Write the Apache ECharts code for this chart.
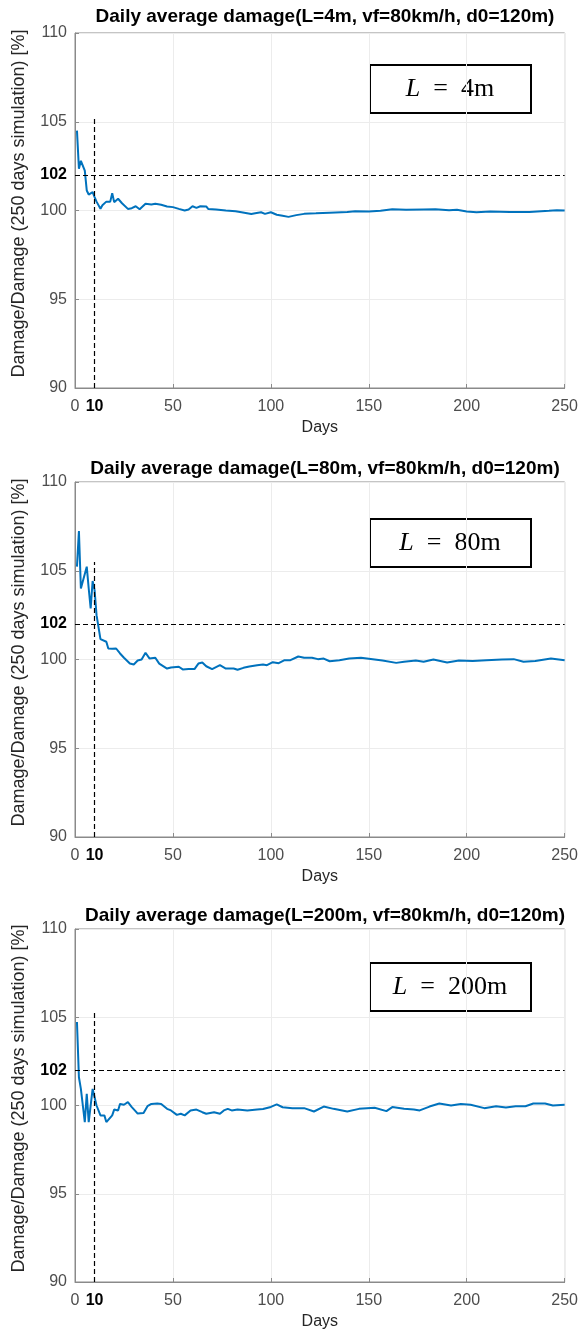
<!DOCTYPE html>
<html>
<head>
<meta charset="utf-8">
<script src="https://cdn.jsdelivr.net/npm/echarts@6/dist/echarts.min.js"></script>
<style>
html,body{margin:0;padding:0;background:#fff;}
#chart{width:581px;height:1331px;}
</style>
</head>
<body>
<div id="chart"></div>
<script>
// ---- data ----
const titles = [
  'Daily average damage(L=4m, vf=80km/h, d0=120m)',
  'Daily average damage(L=80m, vf=80km/h, d0=120m)',
  'Daily average damage(L=200m, vf=80km/h, d0=120m)'
];
const boxLabels = ['4m', '80m', '200m'];
const xTickLabels = [0, 10, 50, 100, 150, 200, 250];
const yTickLabels = [90, 95, 100, 102, 105, 110];
const refDay = 10;
const refLevel = 102;
const refTop = [105.3, 105.5, 105.3];

const daysL4 = [1,2,3,5,6,7,8,9,10,11,13,14,16,18,19,20,21,22,24,27,29,31,33,34,36,39,41,44,47,50,53,56,58,60,62,64,65,67,68,72,77,82,85,90,92,95,97,100,103,106,109,113,117,123,130,139,143,150,156,162,169,178,184,191,195,200,205,212,222,232,242,246,250];
const valuesL4 = [104.5,102.35,102.8,102.25,101.13,100.9,101.0,101.03,100.75,100.5,100.1,100.3,100.5,100.5,100.98,100.47,100.5,100.66,100.41,100.09,100.13,100.24,100.07,100.15,100.38,100.34,100.38,100.32,100.23,100.19,100.09,100.0,100.06,100.24,100.15,100.24,100.15,100.23,100.09,100.06,100.0,99.96,99.9,99.8,99.84,99.9,99.81,99.9,99.76,99.7,99.64,99.74,99.81,99.84,99.88,99.92,99.96,99.94,99.98,100.07,100.04,100.06,100.07,100.02,100.04,99.94,99.9,99.94,99.92,99.92,99.98,100.02,100.0];

const daysL80 = [1,2,3,4,6,7,8,9,10,11,13,14,16,17,19,20,21,23,25,28,30,32,34,36,38,41,43,47,49,53,55,58,61,63,65,67,70,74,77,81,83,86,89,93,96,98,101,104,107,110,114,117,121,124,127,130,135,140,146,152,157,164,168,174,178,183,190,196,203,210,218,224,229,235,243,250];
const valuesL80 = [105.23,107.24,104.0,104.0,105.23,104.0,102.88,104.42,103.91,102.5,101.15,101.15,101.0,100.62,100.6,100.53,100.62,100.34,100.1,99.77,99.72,99.94,100.0,100.38,100.06,100.1,99.77,99.49,99.55,99.59,99.44,99.46,99.46,99.77,99.83,99.62,99.46,99.68,99.49,99.49,99.42,99.53,99.6,99.68,99.72,99.68,99.85,99.79,99.96,99.96,100.17,100.1,100.1,100.02,100.05,99.9,99.96,100.06,100.1,100.02,99.94,99.81,99.87,99.94,99.87,100.0,99.83,99.94,99.91,99.96,100.0,100.02,99.87,99.91,100.06,99.96];

const daysL200 = [1,2,3,4,5,6,7,8,9,10,11,13,15,16,19,20,22,23,25,27,28,29,31,32,35,37,39,42,44,47,49,52,54,56,59,62,65,67,71,74,76,78,80,83,88,93,96,100,103,106,111,117,122,127,132,139,145,153,159,162,168,173,176,181,186,192,197,202,209,215,220,225,230,234,240,244,250];
const valuesL200 = [104.73,101.6,100.94,100.0,99.06,100.66,99.06,99.06,100.94,100.85,100.0,99.44,99.44,99.06,99.44,99.77,99.72,100.09,100.04,100.19,100.23,99.91,99.67,99.54,99.57,99.96,100.09,100.11,100.09,99.81,99.72,99.47,99.53,99.44,99.72,99.77,99.62,99.53,99.62,99.53,99.72,99.81,99.72,99.77,99.72,99.77,99.8,99.92,100.06,99.9,99.85,99.85,99.66,99.94,99.81,99.66,99.81,99.87,99.68,99.91,99.81,99.77,99.72,99.94,100.11,100.0,100.09,100.04,99.85,99.96,99.89,99.96,99.96,100.11,100.11,100.0,100.04];

const seriesDays = [daysL4, daysL80, daysL200];
const seriesValues = [valuesL4, valuesL80, valuesL200];

// ---- layout ----
const gridLeft = 75, gridWidth = 490, gridHeight = 355;
const gridTops = [33, 482, 929];
const titleTops = [2, 454, 901];
const boxTops = [64, 518, 962];
const FONT = '"Liberation Sans", Arial, sans-serif';

const chart = echarts.init(document.getElementById('chart'), null, {renderer: 'canvas'});

const grids = [], xAxes = [], yAxes = [], series = [], titleArr = [], graphics = [];
for (let i = 0; i < 3; i++) {
  grids.push({left: gridLeft, top: gridTops[i], width: gridWidth, height: gridHeight,
    show: true, borderColor: '#8a8a8a', borderWidth: 1, backgroundColor: '#fff'});
  titleArr.push({text: titles[i], left: gridLeft + gridWidth / 2, top: titleTops[i], textAlign: 'center',
    textStyle: {fontFamily: FONT, fontWeight: 'bold', fontSize: 19, color: '#000'}});
  xAxes.push({type: 'value', gridIndex: i, min: 0, max: 250, interval: 50,
    name: 'Days', nameLocation: 'middle', nameGap: 32,
    nameTextStyle: {fontFamily: FONT, fontSize: 16, color: '#262626'},
    axisLine: {show: true, lineStyle: {color: '#8a8a8a'}},
    axisTick: {show: true, inside: true, length: 4, lineStyle: {color: '#8a8a8a'}, customValues: [0,50,100,150,200,250]},
    splitLine: {show: true, lineStyle: {color: '#ececec', width: 1}},
    axisLabel: {show: true, customValues: xTickLabels, margin: 11, fontFamily: FONT, fontSize: 16, color: '#4d4d4d',
      formatter: v => v === refDay ? '{b|' + v + '}' : String(v),
      rich: {b: {fontFamily: FONT, fontSize: 16, fontWeight: 'bold', color: '#000'}}}
  });
  yAxes.push({type: 'value', gridIndex: i, min: 90, max: 110, interval: 5,
    name: 'Damage/Damage (250 days simulation) [%]', nameLocation: 'middle', nameGap: 47, nameRotate: 90,
    nameTextStyle: {fontFamily: FONT, fontSize: 18, color: '#262626', padding: [0, 0, 0, 14]},
    axisLine: {show: true, lineStyle: {color: '#8a8a8a'}},
    axisTick: {show: true, inside: true, length: 4, lineStyle: {color: '#8a8a8a'}, customValues: [90,95,100,105,110]},
    splitLine: {show: true, lineStyle: {color: '#ececec', width: 1}},
    axisLabel: {show: true, customValues: yTickLabels, margin: 8, fontFamily: FONT, fontSize: 16, color: '#4d4d4d',
      formatter: v => v === refLevel ? '{b|' + v + '}' : String(v),
      rich: {b: {fontFamily: FONT, fontSize: 16, fontWeight: 'bold', color: '#000'}}}
  });
  const d = seriesDays[i].map((day, k) => [day, seriesValues[i][k]]);
  series.push({type: 'line', xAxisIndex: i, yAxisIndex: i, data: d, showSymbol: false, symbol: 'none',
    lineStyle: {color: '#0072BD', width: 2}, z: 3, animation: false,
    markLine: {silent: true, symbol: 'none', animation: false,
      lineStyle: {color: '#000', type: [5, 3], width: 1.2},
      label: {show: false},
      data: [
        [{coord: [0, refLevel]}, {coord: [250, refLevel]}],
        [{coord: [refDay, 90]}, {coord: [refDay, refTop[i]]}]
      ]}
  });
  graphics.push({type: 'group', left: 369, top: boxTops[i], children: [
    {type: 'rect', shape: {x: 0, y: 0, width: 161, height: 48}, style: {fill: '#fff', stroke: '#000', lineWidth: 2}},
    {type: 'text', x: 80, y: 24, style: {
      text: '{i|L}{n|  =  ' + boxLabels[i] + '}', align: 'center', verticalAlign: 'middle',
      rich: {
        i: {fontFamily: '"Liberation Serif", "DejaVu Serif", serif', fontStyle: 'italic', fontSize: 26, fill: '#000'},
        n: {fontFamily: '"Liberation Serif", "DejaVu Serif", serif', fontSize: 26, fill: '#000'}
      }}}
  ]});
}

chart.setOption({
  animation: false,
  backgroundColor: '#fff',
  title: titleArr,
  grid: grids,
  xAxis: xAxes,
  yAxis: yAxes,
  series: series,
  graphic: graphics
});
</script>
</body>
</html>
